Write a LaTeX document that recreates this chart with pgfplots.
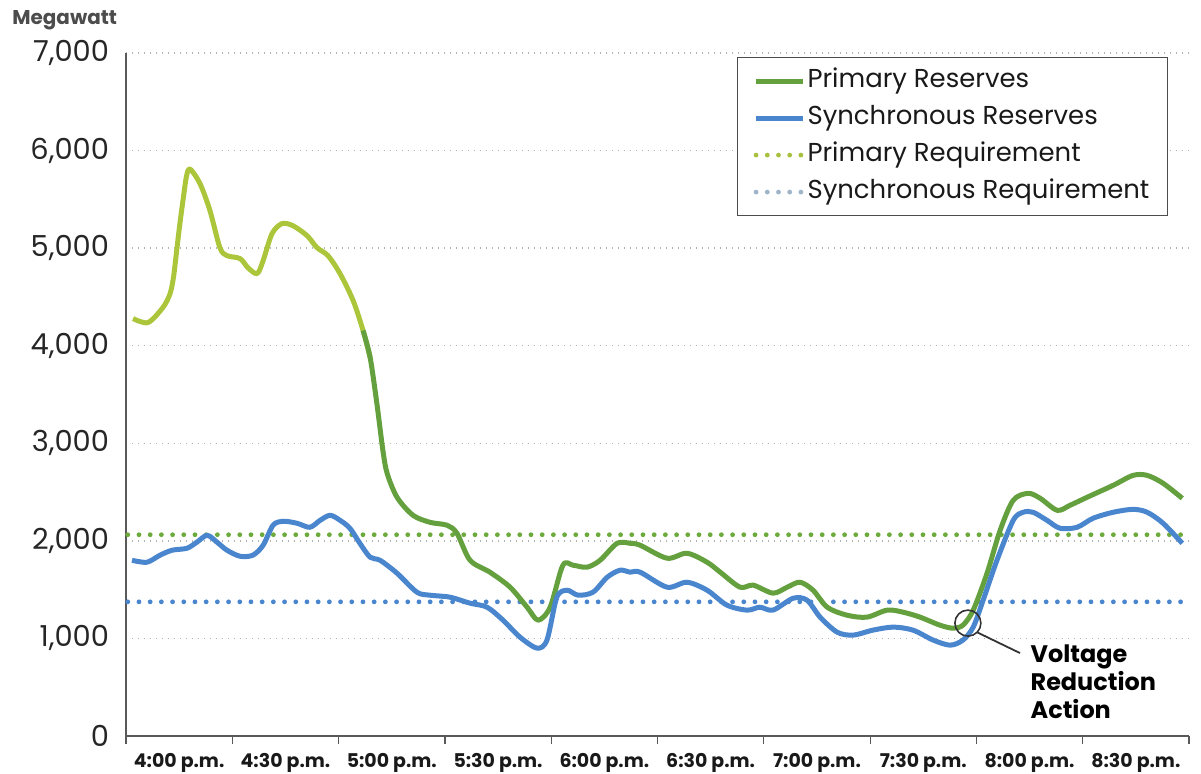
\documentclass[border=0pt]{standalone}
\usepackage{fontspec}
\setmainfont{Poppins}
\usepackage{pgfplots}
\pgfplotsset{compat=1.18}
\definecolor{grnA}{RGB}{172,198,60}
\definecolor{grnB}{RGB}{100,160,62}
\definecolor{blu}{RGB}{74,134,206}
\definecolor{grnDot}{RGB}{108,170,60}
\definecolor{bluDot}{RGB}{74,134,206}
\definecolor{legGrn}{RGB}{168,192,64}
\definecolor{legBlu}{RGB}{160,180,200}

\begin{document}
\begin{tikzpicture}
\useasboundingbox (0,0) rectangle (600.5bp,387bp);
\begin{axis}[
  at={(63bp,19bp)}, anchor=south west,
  scale only axis, width=531.5bp, height=341.5bp,
  xmin=0, xmax=300, ymin=0, ymax=7000,
  clip=false,
  axis lines=left,
  axis line style={-, draw=black!65, line width=0.6bp},
  xtick={0,30,...,300},
  xticklabels={4:00 p.m.,4:30 p.m.,5:00 p.m.,5:30 p.m.,6:00 p.m.,6:30 p.m.,7:00 p.m.,7:30 p.m.,8:00 p.m.,8:30 p.m.},
  x tick label as interval,
  xtick style={draw=black!65, line width=0.6bp},
  tick align=outside,
  major tick length=4bp,
  ytick={0,1000,...,7000},
  ytick style={draw=none},
  ymajorgrids,
  major grid style={draw=black!30, line width=0.7bp, dash pattern=on 0.7bp off 2.3bp},
  yticklabel style={font=\fontsize{14.5}{16}\selectfont, text=black!85, xshift=-1bp},
  xticklabel style={font=\bfseries\fontsize{9.5}{11}\selectfont, text=black!90, yshift=-1bp},
  /pgf/number format/1000 sep={,},
  /pgf/number format/assume math mode=true,
  legend style={at={(1,1)}, anchor=north east, xshift=-10.5bp, yshift=-2bp,
    draw=black!70, line width=0.6bp, font=\fontsize{13}{15}\selectfont,
    row sep=3bp, inner xsep=8bp, inner ysep=4bp,
    nodes={inner xsep=1bp, inner ysep=1.5bp, text height=9.5bp, text depth=3bp, text=black!90}},
  legend cell align=left,
  legend image code/.code={\draw[#1] (0bp,0bp) -- (23.5bp,0bp);},
]
% requirement lines
\addplot[forget plot, grnDot, line width=2.4bp, line cap=round, dash pattern=on 0pt off 5.6bp]
  coordinates {(0.5,2063) (300,2063)};
\addplot[forget plot, bluDot, line width=2.4bp, line cap=round, dash pattern=on 0pt off 5.6bp]
  coordinates {(0.5,1375) (300,1375)};
% primary reserves, early part
\addplot[forget plot, grnA, line width=2.5bp, smooth, line join=round] coordinates {
(2.0,4278)(6.2,4237)(10.4,4391)(12.4,4530)(13.4,4701)(14.3,4974)(15.2,5248)(16.2,5520)
(17.1,5742)(18.1,5810)(20.9,5660)
(23.7,5384)(26.5,5005)(28.5,4923)(32.2,4893)(34.4,4800)(37.0,4739)(38.7,4872)(41.2,5148)
(44.0,5251)(47.1,5230)(51.1,5128)(53.9,5005)(57.0,4923)(60.4,4739)(64.1,4463)(66.9,4156)(68.9,3879)
};
% primary reserves, rest
\addplot[forget plot, grnB, line width=2.5bp, smooth, line join=round] coordinates {
(66.9,4156)(68.9,3879)(70.8,3408)(72.5,2927)(73.7,2692)(76.5,2446)(81.0,2262)(85.8,2190)(90.6,2160)
(93.4,2078)(97.1,1801)(102.7,1679)(108.4,1525)(113.2,1320)(116.3,1187)(119.7,1320)
(123.3,1750)(126.2,1750)(130.1,1730)(133.8,1801)(138.6,1975)(142.3,1975)(145.1,1955)
(152.7,1822)(158.3,1873)(164.0,1781)(167.7,1679)(173.3,1525)(177.0,1546)(182.6,1464)
(186.6,1525)(190.2,1576)(193.9,1494)(197.9,1320)(203.5,1238)(209.1,1218)(214.8,1290)
(219.3,1269)(224.1,1218)(229.7,1136)(233.4,1105)(236.2,1136)(239.1,1290)(243.0,1668)
(246.7,2108)(250.4,2416)(254.6,2487)(258.0,2436)(262.8,2313)(266.4,2364)(271.2,2446)
(278.6,2569)(284.2,2671)(288.2,2671)(292.7,2590)(298.1,2436)
};
% synchronous reserves
\addplot[forget plot, blu, line width=2.5bp, smooth, line join=round] coordinates {
(1.7,1801)(5.9,1781)(9.6,1853)(13.0,1904)(17.2,1924)(20.0,1986)(22.9,2057)(25.7,1986)
(28.5,1904)(32.2,1842)(35.8,1853)(38.7,1955)(41.5,2160)(44.3,2201)(48.3,2180)(51.9,2139)
(54.8,2211)(57.6,2262)(60.4,2211)(63.2,2129)(66.0,1975)(68.9,1832)(71.7,1801)(76.5,1668)
(82.1,1474)(85.8,1443)(91.4,1423)(97.1,1361)(101.9,1320)(106.4,1187)(111.2,1013)(116.0,901)
(118.8,983)(121.6,1423)(124.5,1494)(127.6,1443)(131.8,1474)(135.8,1627)(139.4,1699)
(142.3,1679)(145.1,1679)(152.7,1525)(158.3,1576)(164.0,1494)(169.6,1341)(175.3,1290)
(178.9,1320)(182.6,1290)(188.3,1412)(192.2,1392)(195.9,1218)(200.7,1064)(205.2,1034)
(210.8,1085)(216.5,1116)(222.1,1085)(227.8,983)(232.6,931)(236.2,983)(239.1,1116)
(241.9,1392)(245.8,1801)(250.4,2211)(253.2,2293)(256.0,2293)(259.9,2211)(263.6,2129)
(268.4,2139)(272.9,2231)(278.6,2293)(284.2,2323)(288.2,2293)(292.7,2180)(298.1,1975)
};
% legend entries
\addlegendimage{grnB, line width=2.5bp}
\addlegendentry{Primary Reserves}
\addlegendimage{blu, line width=2.5bp}
\addlegendentry{Synchronous Reserves}
\addlegendimage{legGrn, line width=2.4bp, line cap=round, dash pattern=on 0pt off 5.6bp}
\addlegendentry{Primary Requirement}
\addlegendimage{legBlu, line width=2.4bp, line cap=round, dash pattern=on 0pt off 5.6bp}
\addlegendentry{Synchronous Requirement}
% annotation
\draw[black!80, line width=0.8bp] (axis cs:237.6,1157) circle[radius=6.5bp];
\draw[black!80, line width=0.9bp] ([shift={(-45:6.5bp)}]axis cs:237.6,1157) -- (axis cs:252.3,850);
\node[anchor=north west, align=left, inner sep=0, font=\bfseries\fontsize{12}{14}\selectfont]
  at (axis cs:255.2,935) {Voltage\\Reduction\\Action};
\end{axis}
\node[anchor=west, inner sep=0, font=\bfseries\fontsize{10}{12}\selectfont, text=black!70]
  at (6bp,377bp) {Megawatt};
\end{tikzpicture}
\end{document}
